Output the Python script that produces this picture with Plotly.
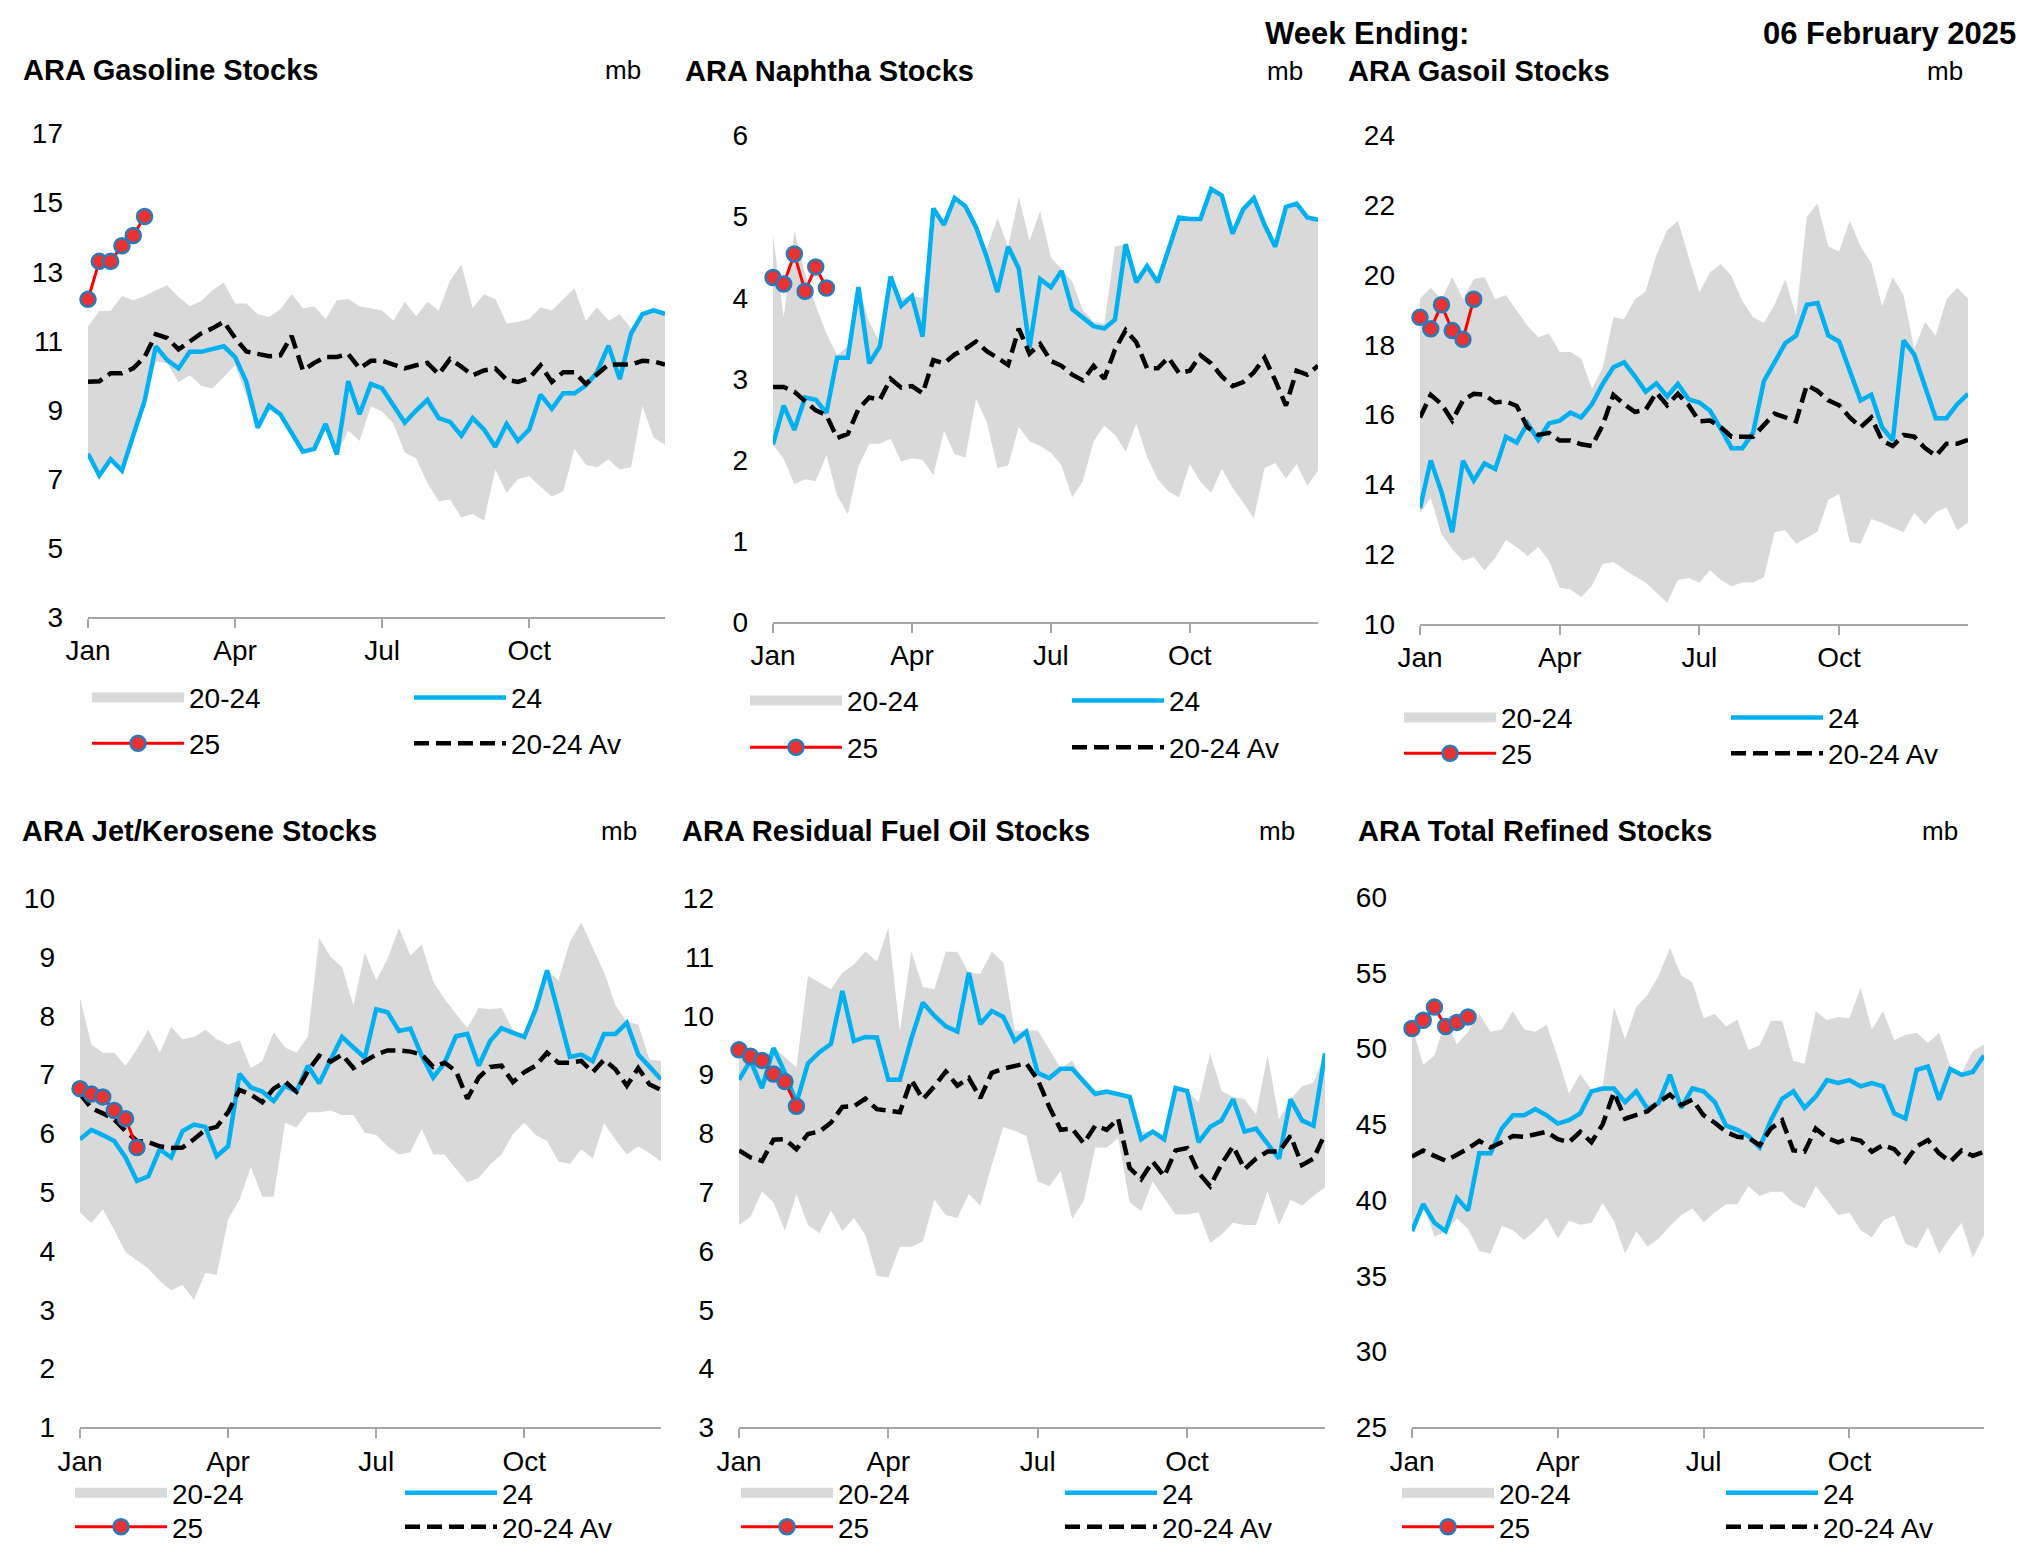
import plotly.graph_objects as go

# ---------------- DATA ----------------
weeks = list(range(1, 53))
weeks_25 = weeks[:6]
month_ticks = [1, 14, 27, 40]
month_labels = ["Jan", "Apr", "Jul", "Oct"]

# Gasoline
gas_min = [7.70,7.05,7.50,7.20,8.20,9.20,10.40,10.35,9.80,10.00,9.70,9.62,9.95,10.30,9.40,8.45,9.00,8.80,8.30,7.75,
           7.85,8.55,7.70,8.40,8.10,9.10,8.95,8.60,7.76,7.60,6.88,6.35,6.40,5.88,5.99,5.79,7.27,6.60,6.99,7.08,
           6.77,6.49,6.64,7.87,7.41,7.34,7.56,7.27,7.34,9.11,8.20,7.98]
gas_max = [11.41,11.86,11.86,12.30,12.17,12.30,12.46,12.61,12.27,12.00,12.15,12.46,12.69,12.08,12.08,11.77,11.69,11.91,12.35,11.94,
           11.99,11.63,12.17,12.21,12.00,11.94,11.88,11.58,12.13,11.71,12.13,11.88,12.74,13.21,11.94,12.35,12.21,11.50,11.55,11.63,
           11.97,11.88,12.21,12.52,11.58,11.97,11.58,11.77,11.36,11.80,11.90,11.80]
gas_24 = [7.73,7.10,7.57,7.24,8.26,9.26,10.84,10.44,10.20,10.68,10.68,10.77,10.84,10.53,9.81,8.48,9.12,8.87,8.34,7.79,
          7.87,8.59,7.71,9.83,8.87,9.75,9.62,9.15,8.63,8.98,9.29,8.76,8.65,8.25,8.76,8.43,7.93,8.59,8.10,8.43,
          9.44,9.03,9.48,9.48,9.70,10.09,10.86,9.89,11.21,11.77,11.88,11.78]
gas_av = [9.81,9.83,10.06,10.06,10.20,10.53,11.19,11.08,10.75,10.97,11.21,11.36,11.55,11.08,10.69,10.62,10.55,10.58,11.14,10.14,
          10.36,10.53,10.53,10.62,10.20,10.42,10.42,10.31,10.20,10.29,10.36,10.03,10.47,10.25,10.00,10.14,10.20,9.87,9.81,9.92,
          10.29,9.81,10.09,10.09,9.75,10.03,10.31,10.31,10.31,10.42,10.40,10.31]
gas_25 = [12.2, 13.3, 13.3, 13.75, 14.05, 14.6]

# Naphtha
nap_min = [2.19,2.01,1.70,1.76,1.74,2.06,1.56,1.33,1.92,2.20,2.20,2.26,1.98,2.02,2.00,1.81,2.36,2.07,2.03,2.75,
           2.47,1.90,1.93,2.41,2.23,2.17,2.09,1.93,1.54,1.74,2.23,2.42,2.31,2.10,2.45,2.04,1.76,1.61,1.54,1.95,
           1.73,1.59,1.89,1.66,1.47,1.28,1.90,1.96,1.77,1.95,1.68,1.87]
nap_max = [4.78,3.76,4.82,4.30,3.90,3.56,3.29,3.40,4.13,3.70,3.45,4.26,4.00,4.02,4.00,5.10,4.90,5.23,5.13,4.87,
           4.60,4.98,4.63,5.25,4.70,5.07,4.50,4.35,4.20,3.85,3.70,3.68,4.63,4.66,4.19,4.39,4.19,4.59,4.99,4.97,
           4.97,5.34,5.26,4.79,5.09,5.23,4.90,4.63,5.12,5.16,4.99,4.96]
nap_24 = [2.19,2.67,2.37,2.77,2.74,2.58,3.26,3.26,4.13,3.19,3.40,4.26,3.90,4.02,3.52,5.10,4.90,5.23,5.13,4.87,
          4.50,4.07,4.63,4.36,3.38,4.23,4.13,4.33,3.86,3.75,3.65,3.62,3.73,4.66,4.19,4.39,4.19,4.59,4.99,4.97,
          4.97,5.34,5.26,4.79,5.09,5.23,4.90,4.63,5.12,5.16,4.99,4.96]
nap_av = [2.90,2.90,2.84,2.73,2.61,2.55,2.27,2.32,2.63,2.77,2.74,3.00,2.89,2.91,2.82,3.23,3.19,3.30,3.37,3.46,
          3.34,3.26,3.17,3.62,3.31,3.43,3.22,3.16,3.05,2.98,3.16,3.00,3.36,3.60,3.45,3.13,3.13,3.26,3.07,3.10,
          3.29,3.19,3.03,2.91,2.96,3.08,3.26,2.98,2.67,3.10,3.05,3.16]
nap_25 = [4.25, 4.17, 4.54, 4.08, 4.38, 4.12]

# Gasoil
gso_min = [13.18,13.62,12.58,12.14,11.81,11.92,11.54,11.89,12.41,12.21,11.95,12.21,11.81,11.04,10.99,10.77,11.10,11.72,11.78,11.56,
           11.37,11.19,10.90,10.60,11.26,11.32,11.19,11.54,11.26,11.08,11.19,11.19,11.34,12.63,12.69,12.30,12.47,12.65,13.56,13.73,
           12.36,12.30,13.01,12.90,12.76,12.63,13.18,12.85,13.20,13.34,12.69,12.90]
gso_max = [19.33,19.64,19.31,19.95,19.31,19.88,19.95,19.31,19.42,18.98,18.55,18.22,18.33,17.80,17.80,17.61,16.74,17.34,18.79,18.74,
           19.31,19.53,20.57,21.28,21.56,20.52,19.51,20.08,20.32,19.97,19.26,18.79,18.63,19.15,19.88,18.82,21.67,22.05,20.82,20.68,
           21.56,20.82,20.35,19.11,19.95,19.42,17.89,18.66,18.27,19.31,19.64,19.33]
gso_24 = [13.32,14.69,13.78,12.63,14.68,14.11,14.60,14.44,15.37,15.20,15.75,15.28,15.75,15.83,16.06,15.92,16.30,16.88,17.36,17.50,
          17.10,16.66,16.90,16.52,16.88,16.44,16.35,16.11,15.59,15.04,15.04,15.48,16.96,17.50,18.05,18.27,19.15,19.20,18.27,18.10,
          17.29,16.41,16.57,15.64,15.26,18.13,17.72,16.85,15.90,15.90,16.30,16.60]
gso_av = [15.92,16.57,16.30,15.83,16.41,16.60,16.57,16.35,16.38,16.25,15.64,15.42,15.48,15.26,15.26,15.15,15.10,15.70,16.57,16.30,
          16.08,16.14,16.63,16.27,16.60,16.27,15.81,15.83,15.64,15.37,15.37,15.37,15.70,16.03,15.92,15.81,16.85,16.68,16.41,16.27,
          15.92,15.64,15.92,15.26,15.10,15.42,15.37,15.04,14.82,15.17,15.17,15.28]
gso_25 = [18.79, 18.46, 19.15, 18.41, 18.16, 19.31]

# Jet / Kerosene
jet_min = [4.66,4.47,4.71,4.36,3.98,3.84,3.70,3.49,3.33,3.42,3.17,3.63,3.59,4.54,4.87,5.43,4.92,4.92,6.18,6.10,
           6.36,6.36,6.39,6.31,6.31,6.01,5.97,5.78,5.64,5.68,6.08,5.64,5.64,5.40,5.17,5.24,5.47,5.64,5.99,6.18,
           5.97,5.87,5.52,5.48,5.73,5.57,6.17,5.89,5.64,5.78,5.66,5.52]
jet_max = [8.30,7.51,7.37,7.37,7.15,7.43,7.76,7.37,7.81,7.60,7.64,7.76,7.60,7.51,7.58,7.11,7.23,7.72,7.46,7.37,
           7.64,9.32,9.00,8.83,8.18,9.07,8.60,8.97,9.49,9.02,9.21,8.58,8.28,8.04,7.79,8.13,8.11,8.13,7.76,7.64,
           8.11,8.77,8.60,9.26,9.58,9.16,8.74,8.18,7.90,7.85,7.25,7.23]
jet_24 = [5.90,6.06,5.97,5.87,5.59,5.19,5.27,5.73,5.59,6.04,6.15,6.11,5.61,5.78,7.01,6.78,6.71,6.55,6.81,6.71,
          7.15,6.85,7.25,7.64,7.46,7.29,8.11,8.06,7.74,7.78,7.32,6.95,7.20,7.65,7.69,7.15,7.57,7.79,7.71,7.64,
          8.11,8.77,8.04,7.30,7.34,7.23,7.69,7.69,7.88,7.34,7.13,6.92]
jet_av = [6.67,6.43,6.34,6.24,6.04,5.87,5.85,5.78,5.75,5.76,5.90,6.06,6.11,6.36,6.74,6.66,6.53,6.76,6.88,6.71,
          7.06,7.32,7.22,7.34,7.11,7.23,7.34,7.41,7.41,7.39,7.34,7.13,7.20,7.06,6.59,6.95,7.13,7.15,6.87,7.04,
          7.15,7.37,7.20,7.20,7.23,7.04,7.25,7.09,6.81,7.11,6.83,6.74]
jet_25 = [6.76, 6.67, 6.62, 6.39, 6.25, 5.76]

# Residual Fuel Oil
rfo_min = [6.44,6.58,7.01,6.83,6.34,6.97,6.44,6.30,6.69,6.34,6.56,6.27,5.58,5.55,6.07,6.07,6.16,6.87,6.61,6.56,
           6.97,6.77,7.46,8.11,8.04,7.96,7.18,7.10,7.36,6.55,6.85,7.76,7.76,7.92,6.83,6.68,7.18,6.90,6.62,6.62,
           6.66,6.14,6.28,6.48,6.44,6.44,7.01,6.44,6.87,6.77,6.94,7.08]
rfo_max = [9.45,9.33,9.22,9.47,9.29,9.12,10.68,10.57,10.45,10.73,10.87,11.09,10.92,11.49,9.73,11.09,10.49,10.45,11.09,11.09,
           10.73,10.71,11.09,10.91,9.75,9.75,9.75,9.43,9.10,9.24,8.88,8.67,8.71,8.67,8.62,8.03,8.03,7.96,8.77,8.72,
           8.53,9.36,8.72,8.62,8.58,8.32,9.33,8.24,8.58,8.80,8.86,9.36]
rfo_24 = [8.91,9.24,8.77,9.45,9.03,8.52,9.19,9.38,9.52,10.42,9.57,9.64,9.63,8.91,8.91,9.61,10.22,10.00,9.82,9.73,
          10.73,9.86,10.08,9.98,9.57,9.73,9.03,8.94,9.10,9.10,8.88,8.67,8.71,8.67,8.62,7.90,8.03,7.90,8.77,8.72,
          7.85,8.11,8.22,8.58,8.03,8.08,7.83,7.57,8.58,8.22,8.13,9.36]
rfo_av = [7.71,7.59,7.53,7.89,7.90,7.73,7.99,8.03,8.18,8.45,8.46,8.59,8.41,8.39,8.36,8.91,8.58,8.80,9.05,8.81,
          8.94,8.60,9.03,9.10,9.14,9.19,8.91,8.45,8.06,8.08,7.83,8.13,8.06,8.25,7.41,7.22,7.52,7.27,7.71,7.75,
          7.33,7.10,7.48,7.78,7.39,7.57,7.69,7.69,7.96,7.46,7.57,7.99]
rfo_25 = [9.42, 9.31, 9.24, 9.01, 8.88, 8.46]

# Total refined
tot_min = [37.96,39.70,37.60,37.90,38.78,38.10,36.65,36.46,38.29,38.01,37.36,38.01,38.83,37.47,38.64,38.37,38.51,39.81,38.64,36.46,
           37.96,36.92,37.47,38.29,39.00,39.46,38.56,39.19,39.73,39.73,40.91,40.28,40.55,40.55,39.81,39.46,40.91,40.00,39.00,39.19,
           38.01,37.55,38.64,39.00,37.14,36.81,38.23,36.46,37.55,38.51,36.19,37.69]
tot_max = [51.50,48.93,49.55,51.87,50.29,51.11,52.28,51.11,51.27,52.47,51.27,51.11,51.60,49.42,47.02,48.33,47.29,47.51,52.74,50.64,
           52.74,53.56,54.82,56.64,54.82,54.38,52.01,52.28,51.46,51.93,49.91,50.23,51.82,51.82,49.20,49.00,52.47,51.87,52.09,52.01,
           54.00,51.27,52.47,50.56,50.92,51.05,50.37,51.05,48.82,48.38,49.83,50.29]
tot_24 = [37.96,39.73,38.51,37.96,40.14,39.32,43.09,43.09,44.72,45.60,45.60,46.01,45.60,45.05,45.27,45.73,47.18,47.37,47.37,46.47,
          47.18,46.01,46.42,48.27,46.09,47.37,47.18,46.47,44.92,44.64,44.23,43.47,45.27,46.69,47.18,46.09,46.83,47.92,47.73,47.92,
          47.51,47.73,47.51,45.73,45.38,48.60,48.82,46.63,48.65,48.27,48.46,49.55]
tot_av = [42.87,43.28,42.92,42.60,43.00,43.41,43.91,43.47,43.82,44.23,44.18,44.37,44.51,44.02,43.82,44.51,43.82,45.00,47.10,45.38,
          45.65,45.87,46.47,46.96,46.28,46.63,45.60,45.11,44.51,44.18,44.10,43.63,44.72,45.27,43.28,43.20,44.72,44.10,43.82,44.10,
          43.91,43.20,43.63,43.36,42.54,43.55,43.96,43.09,42.54,43.28,42.92,43.20]
tot_25 = [51.33, 51.87, 52.74, 51.46, 51.73, 52.09]

titles = ["ARA Gasoline Stocks", "ARA Naphtha Stocks", "ARA Gasoil Stocks",
          "ARA Jet/Kerosene Stocks", "ARA Residual Fuel Oil Stocks", "ARA Total Refined Stocks"]
unit_label = "mb"
series_names = ["20-24", "24", "25", "20-24 Av"]
y_ranges = [(3, 17, 2), (0, 6, 1), (10, 24, 2), (1, 10, 1), (3, 12, 1), (25, 60, 5)]
header_left = "Week Ending:"
header_right = "06 February 2025"

panel_data = [
    (gas_min, gas_max, gas_24, gas_25, gas_av),
    (nap_min, nap_max, nap_24, nap_25, nap_av),
    (gso_min, gso_max, gso_24, gso_25, gso_av),
    (jet_min, jet_max, jet_24, jet_25, jet_av),
    (rfo_min, rfo_max, rfo_24, rfo_25, rfo_av),
    (tot_min, tot_max, tot_24, tot_25, tot_av),
]

# ---------------- LAYOUT (pixel geometry) ----------------
W, H = 2033, 1544
FONT = "Liberation Sans, Arial, sans-serif"
BAND = "#D9D9D9"
BLUE = "#00B0F0"
RED = "#FF0000"
MRED = "#EA3232"
MEDGE = "#2A7AB8"
AXIS = "#A6A6A6"

geom = [
    dict(x0=80, x1=657, yt=126, yb=611, tx=13, ty=62, mb=615, cols=(67, 406), rows=(692, 738)),
    dict(x0=765, x1=1310, yt=128, yb=616, tx=675, ty=63, mb=1277, cols=(742, 1064), rows=(695, 742)),
    dict(x0=1412, x1=1960, yt=128, yb=618, tx=1338, ty=63, mb=1937, cols=(1396, 1723), rows=(712, 748)),
    dict(x0=72, x1=653, yt=893, yb=1424, tx=12, ty=826, mb=611, cols=(67, 397), rows=(1490, 1524)),
    dict(x0=731, x1=1317, yt=893, yb=1424, tx=672, ty=826, mb=1269, cols=(733, 1057), rows=(1490, 1524)),
    dict(x0=1404, x1=1976, yt=892, yb=1424, tx=1348, ty=826, mb=1932, cols=(1394, 1718), rows=(1490, 1524)),
]
geom[0]["cols"] = (84, 406)

def fx(px):
    return px / W

def fy(py):
    return 1 - py / H

fig = go.Figure()
layout = dict(
    width=W, height=H,
    margin=dict(l=0, r=0, t=0, b=0),
    paper_bgcolor="white", plot_bgcolor="white",
    font=dict(family=FONT, color="black", size=28),
    showlegend=True,
    annotations=[], hovermode=False,
)

leg_n = 0
for i, (g, title, yr, data) in enumerate(zip(geom, titles, y_ranges, panel_data), start=1):
    s = "" if i == 1 else str(i)
    xa, ya = "x" + s, "y" + s
    vmin, vmax, v24, v25, vav = data

    legend_ids = []
    legend_pos = [(g["cols"][0], g["rows"][0]), (g["cols"][1], g["rows"][0]),
                  (g["cols"][0], g["rows"][1]), (g["cols"][1], g["rows"][1])]
    for (lx, ly) in legend_pos:
        leg_n += 1
        lid = "legend" if leg_n == 1 else "legend%d" % leg_n
        legend_ids.append(lid)
        layout[lid] = dict(
            x=fx(lx - 5), y=fy(ly), xanchor="left", yanchor="middle",
            xref="paper", yref="paper", orientation="v",
            bgcolor="rgba(0,0,0,0)", borderwidth=0, itemwidth=92,
            font=dict(family=FONT, size=28, color="black"),
            itemclick=False, itemdoubleclick=False,
        )

    # band (min then max filled to it)
    fig.add_trace(go.Scatter(x=weeks, y=vmin, xaxis=xa, yaxis=ya, mode="lines",
                             line=dict(width=0, color=BAND), showlegend=False,
                             hoverinfo="skip"))
    fig.add_trace(go.Scatter(x=weeks, y=vmax, xaxis=xa, yaxis=ya, mode="lines",
                             line=dict(width=0, color=BAND), fill="tonexty", fillcolor=BAND,
                             showlegend=False, hoverinfo="skip"))
    # legend key for the band (thick swatch)
    fig.add_trace(go.Scatter(x=[None], y=[None], xaxis=xa, yaxis=ya, mode="lines",
                             line=dict(width=14, color=BAND), name=series_names[0],
                             legend=legend_ids[0]))
    # 2024
    fig.add_trace(go.Scatter(x=weeks, y=v24, xaxis=xa, yaxis=ya, mode="lines",
                             line=dict(width=4.5, color=BLUE), name=series_names[1],
                             legend=legend_ids[1], cliponaxis=False))
    # 20-24 average
    fig.add_trace(go.Scatter(x=weeks, y=vav, xaxis=xa, yaxis=ya, mode="lines",
                             line=dict(width=4.5, color="black", dash="15px,7px"),
                             name=series_names[3], legend=legend_ids[3], cliponaxis=False))
    # 2025
    fig.add_trace(go.Scatter(x=weeks_25, y=v25, xaxis=xa, yaxis=ya, mode="lines+markers",
                             line=dict(width=3, color=RED),
                             marker=dict(size=15, color=MRED, line=dict(width=2.5, color=MEDGE)),
                             name=series_names[2], legend=legend_ids[2], cliponaxis=False))

    layout["xaxis" + s] = dict(
        domain=[fx(g["x0"]), fx(g["x1"])], range=[1, 52], anchor=ya,
        tickmode="array", tickvals=month_ticks, ticktext=month_labels,
        showline=True, linecolor=AXIS, linewidth=1.5, ticks="outside", ticklen=9,
        tickcolor=AXIS, tickwidth=1.5, showgrid=False, zeroline=False,
        tickfont=dict(family=FONT, size=28, color="black"), ticklabelstandoff=-1,
        automargin=False, fixedrange=True,
    )
    layout["yaxis" + s] = dict(
        domain=[fy(g["yb"]), fy(g["yt"])], range=[yr[0], yr[1]], anchor=xa,
        tick0=yr[0], dtick=yr[2], showline=False, ticks="", showgrid=False, zeroline=False,
        tickfont=dict(family=FONT, size=28, color="black"), ticklabelstandoff=24,
        automargin=False, fixedrange=True,
    )

    layout["annotations"].append(dict(
        text="<b>%s</b>" % title, x=fx(g["tx"]), y=fy(g["ty"]), xref="paper", yref="paper",
        xanchor="left", yanchor="middle", showarrow=False,
        font=dict(family=FONT, size=29, color="black")))
    layout["annotations"].append(dict(
        text=unit_label, x=fx(g["mb"]), y=fy(g["ty"]), xref="paper", yref="paper",
        xanchor="center", yanchor="middle", showarrow=False,
        font=dict(family=FONT, size=26, color="black")))

layout["annotations"].append(dict(
    text="<b>%s</b>" % header_left, x=fx(1255), y=fy(26), xref="paper", yref="paper",
    xanchor="left", yanchor="middle", showarrow=False,
    font=dict(family=FONT, size=31, color="black")))
layout["annotations"].append(dict(
    text="<b>%s</b>" % header_right, x=fx(2010), y=fy(26), xref="paper", yref="paper",
    xanchor="right", yanchor="middle", showarrow=False,
    font=dict(family=FONT, size=31, color="black")))

fig.update_layout(**layout)
fig.write_html("out.html")
